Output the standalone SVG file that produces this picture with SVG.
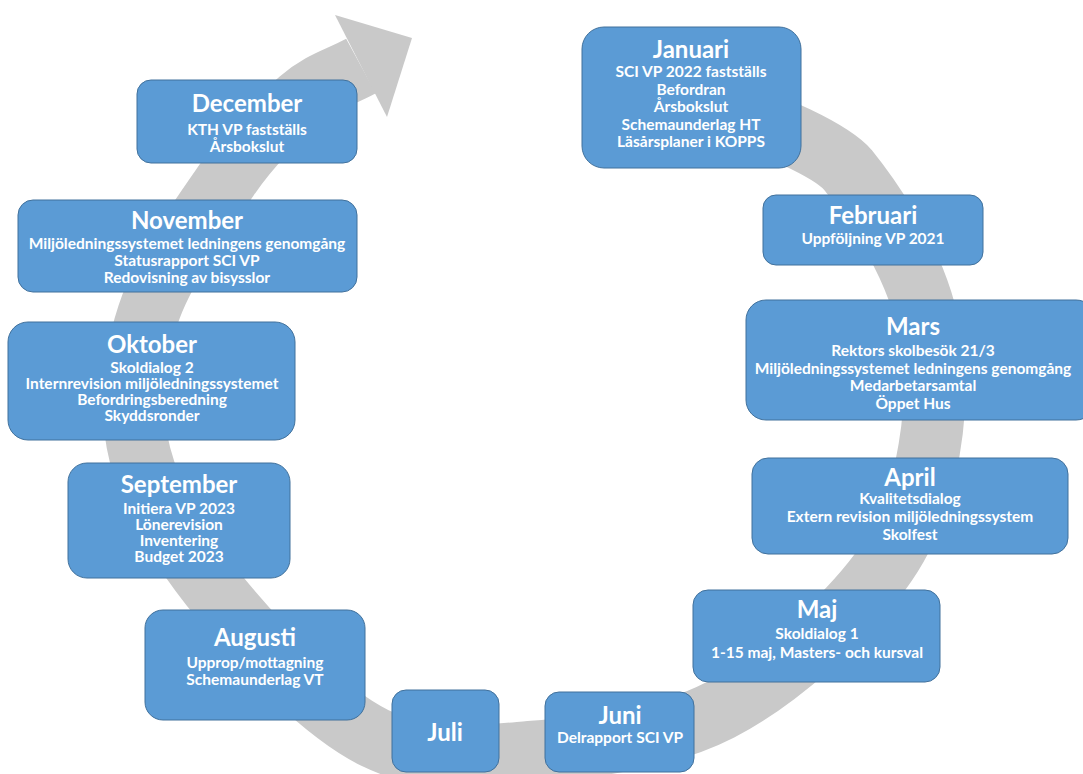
<svg xmlns="http://www.w3.org/2000/svg" width="1083" height="774" viewBox="0 0 1083 774">
<style>
.box{fill:#5b9bd5;stroke:#41719c;stroke-width:1}
text{font-family:Lato,"Open Sans","Liberation Sans",sans-serif;font-weight:bold;fill:#ffffff;text-anchor:middle}
.t{font-size:24px}
.b{font-size:15.5px}
.band{fill:none;stroke:#c9c9c9;stroke-width:62}
</style>
<rect width="1083" height="774" fill="#ffffff"/>
<g id="connectors">
<path class="band" d="M690,92 C714,105 822,140 848,170 C873,201 902,246 918,290 C934,334 938,383 932,430 C926,477 915,525 880,572 C845,619 778,680 720,710 C662,740 588,747 530,752 C472,757 426,763 375,738 C324,713 261,647 222,600 C183,553 152,502 140,455 C128,407 133,361 148,315 C163,269 203,214 228,178 C253,142 278,119 300,100 C322,81 339,78 361,66"/>
<polygon points="335,15 412,38 387,117" fill="#c9c9c9"/>
</g>
<g id="januari"><rect class="box" x="582" y="27" width="219" height="141" rx="22"/>
<text class="t" x="691" y="58">Januari</text>
<text class="b" x="691" y="77">SCI VP 2022 fastställs</text>
<text class="b" x="691" y="94.5">Befordran</text>
<text class="b" x="691" y="112">Årsbokslut</text>
<text class="b" x="691" y="129.5">Schemaunderlag HT</text>
<text class="b" x="691" y="147">Läsårsplaner i KOPPS</text></g>
<g id="februari"><rect class="box" x="763" y="195" width="220" height="70" rx="13"/>
<text class="t" x="873" y="224">Februari</text>
<text class="b" x="873" y="244">Uppföljning VP 2021</text></g>
<g id="mars"><rect class="box" x="746" y="300" width="350" height="120" rx="20"/>
<text class="t" x="913" y="335">Mars</text>
<text class="b" x="913" y="356">Rektors skolbesök 21/3</text>
<text class="b" x="913" y="374">Miljöledningssystemet ledningens genomgång</text>
<text class="b" x="913" y="391">Medarbetarsamtal</text>
<text class="b" x="913" y="409">Öppet Hus</text></g>
<g id="april"><rect class="box" x="752" y="458" width="316" height="96" rx="16"/>
<text class="t" x="910" y="486">April</text>
<text class="b" x="910" y="504">Kvalitetsdialog</text>
<text class="b" x="910" y="522">Extern revision miljöledningssystem</text>
<text class="b" x="910" y="540">Skolfest</text></g>
<g id="maj"><rect class="box" x="693" y="590" width="247" height="92" rx="15"/>
<text class="t" x="817" y="618">Maj</text>
<text class="b" x="817" y="639">Skoldialog 1</text>
<text class="b" x="817" y="658">1-15 maj, Masters- och kursval</text></g>
<g id="juni"><rect class="box" x="545" y="692" width="149" height="80" rx="14"/>
<text class="t" x="620" y="724">Juni</text>
<text class="b" x="620" y="743">Delrapport SCI VP</text></g>
<g id="juli"><rect class="box" x="392" y="690" width="107" height="82" rx="14"/>
<text class="t" x="445" y="741">Juli</text></g>
<g id="augusti"><rect class="box" x="145" y="610" width="220" height="110" rx="18"/>
<text class="t" x="255" y="646">Augusti</text>
<text class="b" x="255" y="668">Upprop/mottagning</text>
<text class="b" x="255" y="685">Schemaunderlag VT</text></g>
<g id="september"><rect class="box" x="68" y="463" width="222" height="115" rx="19"/>
<text class="t" x="179" y="493">September</text>
<text class="b" x="179" y="514">Initiera VP 2023</text>
<text class="b" x="179" y="530">Lönerevision</text>
<text class="b" x="179" y="546">Inventering</text>
<text class="b" x="179" y="562">Budget 2023</text></g>
<g id="oktober"><rect class="box" x="8" y="322" width="287" height="118" rx="20"/>
<text class="t" x="152" y="353">Oktober</text>
<text class="b" x="152" y="373">Skoldialog 2</text>
<text class="b" x="152" y="389">Internrevision miljöledningssystemet</text>
<text class="b" x="152" y="405">Befordringsberedning</text>
<text class="b" x="152" y="421">Skyddsronder</text></g>
<g id="november"><rect class="box" x="18" y="200" width="339" height="92" rx="15"/>
<text class="t" x="187" y="229">November</text>
<text class="b" x="187" y="249">Miljöledningssystemet ledningens genomgång</text>
<text class="b" x="187" y="266">Statusrapport SCI VP</text>
<text class="b" x="187" y="283">Redovisning av bisysslor</text></g>
<g id="december"><rect class="box" x="137" y="80" width="220" height="83" rx="14"/>
<text class="t" x="247" y="112">December</text>
<text class="b" x="247" y="135">KTH VP fastställs</text>
<text class="b" x="247" y="152">Årsbokslut</text></g>
</svg>
